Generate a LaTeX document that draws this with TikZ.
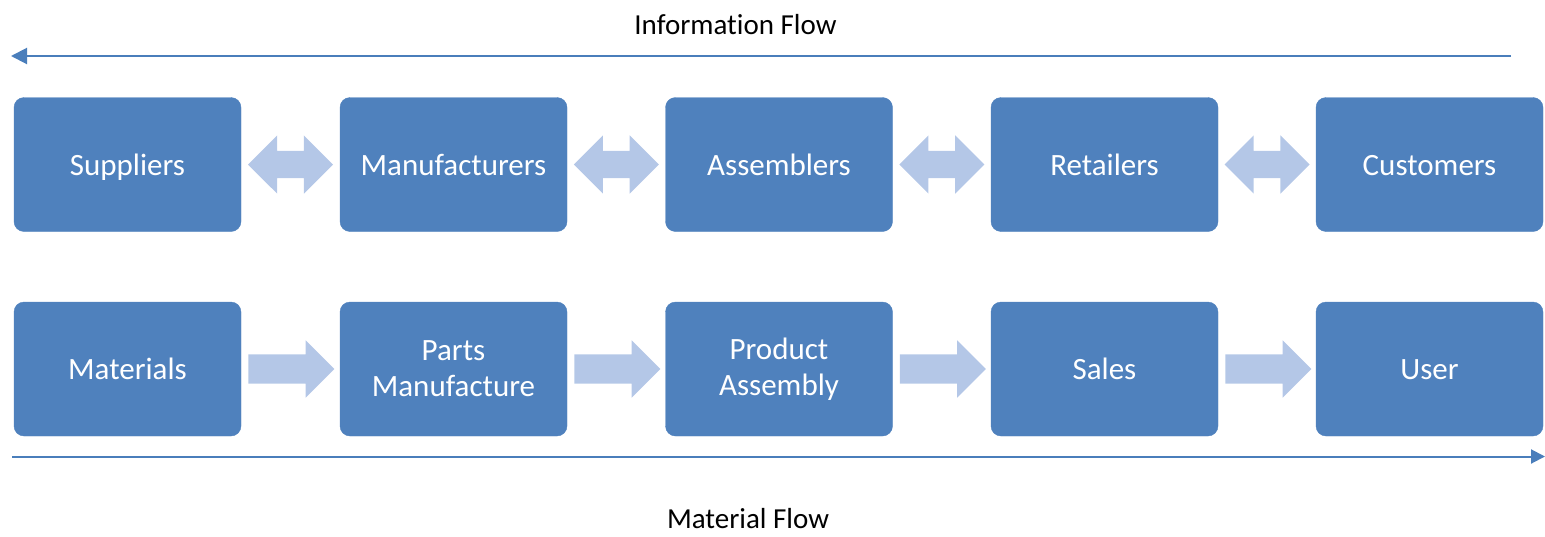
\documentclass[tikz,border=0pt]{standalone}
\usepackage{fontspec}
\setmainfont{Carlito}[Ligatures=NoCommon]
\usetikzlibrary{shapes.arrows,arrows.meta,calc}
\definecolor{boxblue}{HTML}{4F81BD}
\definecolor{arrowblue}{HTML}{B4C7E7}
\definecolor{lineblue}{HTML}{4A7EBB}
\tikzset{
  stage/.style={draw=boxblue, fill=boxblue, rounded corners=10pt,
    minimum width=227pt, minimum height=134pt, inner sep=0pt,
    text=white, font=\fontsize{31}{36}\selectfont, align=center},
  oneline/.style={text height=21pt, text depth=0pt},
  both/.style={double arrow, fill=arrowblue, inner sep=13.5pt,
    minimum height=85pt, double arrow head extend=15.5pt},
  fwd/.style={single arrow, fill=arrowblue, inner sep=14.5pt,
    minimum height=86pt, single arrow head extend=14pt,
    anchor=tail, xshift=7pt},
  flow/.style={draw=lineblue, line width=2pt},
  caption/.style={font=\fontsize{29}{35}\selectfont, anchor=base}
}
\begin{document}
\begin{tikzpicture}[x=1pt,y=-1pt]
  \useasboundingbox (0,0) rectangle (1545,536);
  % organisations
  \draw
    (127.5,164.5) node[stage,oneline] (sup){Suppliers}
    (453.5,164.5) node[stage,oneline] (man){Manufacturers}
    (779,164.5) node[stage,oneline] (asm){Assemblers}
    (1104.5,164.5) node[stage,oneline] (ret){Retailers}
    (1429.5,164.5) node[stage,oneline] (cus){Customers};
  % stages of the material
  \draw
    (127.5,369) node[stage,oneline] (mat){Materials}
    (453.5,369) node[stage] (prt){Parts\\Manufacture}
    (779,369) node[stage] (pas){Product\\Assembly}
    (1104.5,369) node[stage,oneline] (sal){Sales}
    (1429.5,369) node[stage,oneline] (usr){User};
  % links
  \node[both] (l1) at ($(sup.east)!0.5!(man.west)$) {};
  \node[both] (l2) at ($(man.east)!0.5!(asm.west)$) {};
  \node[both] (l3) at ($(asm.east)!0.5!(ret.west)$) {};
  \node[both] (l4) at ($(ret.east)!0.5!(cus.west)$) {};
  \node[fwd] (f1) at (mat.east) {};
  \node[fwd] (f2) at (prt.east) {};
  \node[fwd] (f3) at (pas.east) {};
  \node[fwd] (f4) at (sal.east) {};
  % flows
  \coordinate (infoR) at (1511,56);
  \coordinate (infoL) at (11,56);
  \coordinate (matL) at (12,456.5);
  \coordinate (matR) at (1545,456.5);
  \draw[flow,-{Triangle[length=16pt,width=16pt]}] (infoR) -- (infoL);
  \draw[flow,-{Triangle[length=14pt,width=14pt]}] (matL) -- (matR);
  \node[caption] (info) at (735.5,34) {Information Flow};
  \node[caption] (matflow) at (748,528) {Material Flow};
\end{tikzpicture}
\end{document}
